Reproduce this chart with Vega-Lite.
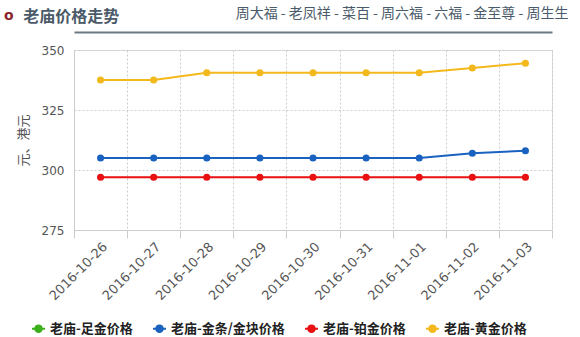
{
  "$schema": "https://vega.github.io/schema/vega-lite/v6.json",
  "width": 478,
  "height": 180,
  "autosize": {"type": "none"},
  "padding": {"left": 74, "top": 50, "right": 28, "bottom": 107},
  "background": "white",
  "title": {
    "text": "o",
    "subtitle": "\u200b\u3000\u2009老庙价格走势",
    "anchor": "start",
    "frame": "group",
    "dx": -70,
    "dy": 19,
    "offset": 0,
    "font": "DejaVu Sans",
    "fontSize": 14,
    "fontWeight": "bold",
    "color": "#8b1f2d",
    "subtitleFont": "Noto Sans CJK SC",
    "subtitleFontSize": 16,
    "subtitleFontWeight": "bold",
    "subtitleColor": "#4b5a69",
    "subtitlePadding": -14
  },
  "data": {
    "values": [
      {"date": "2016-10-26", "series": "老庙-金条/金块价格", "price": 305},
      {"date": "2016-10-27", "series": "老庙-金条/金块价格", "price": 305},
      {"date": "2016-10-28", "series": "老庙-金条/金块价格", "price": 305},
      {"date": "2016-10-29", "series": "老庙-金条/金块价格", "price": 305},
      {"date": "2016-10-30", "series": "老庙-金条/金块价格", "price": 305},
      {"date": "2016-10-31", "series": "老庙-金条/金块价格", "price": 305},
      {"date": "2016-11-01", "series": "老庙-金条/金块价格", "price": 305},
      {"date": "2016-11-02", "series": "老庙-金条/金块价格", "price": 307},
      {"date": "2016-11-03", "series": "老庙-金条/金块价格", "price": 308},
      {"date": "2016-10-26", "series": "老庙-铂金价格", "price": 297},
      {"date": "2016-10-27", "series": "老庙-铂金价格", "price": 297},
      {"date": "2016-10-28", "series": "老庙-铂金价格", "price": 297},
      {"date": "2016-10-29", "series": "老庙-铂金价格", "price": 297},
      {"date": "2016-10-30", "series": "老庙-铂金价格", "price": 297},
      {"date": "2016-10-31", "series": "老庙-铂金价格", "price": 297},
      {"date": "2016-11-01", "series": "老庙-铂金价格", "price": 297},
      {"date": "2016-11-02", "series": "老庙-铂金价格", "price": 297},
      {"date": "2016-11-03", "series": "老庙-铂金价格", "price": 297},
      {"date": "2016-10-26", "series": "老庙-黄金价格", "price": 337.5},
      {"date": "2016-10-27", "series": "老庙-黄金价格", "price": 337.5},
      {"date": "2016-10-28", "series": "老庙-黄金价格", "price": 340.5},
      {"date": "2016-10-29", "series": "老庙-黄金价格", "price": 340.5},
      {"date": "2016-10-30", "series": "老庙-黄金价格", "price": 340.5},
      {"date": "2016-10-31", "series": "老庙-黄金价格", "price": 340.5},
      {"date": "2016-11-01", "series": "老庙-黄金价格", "price": 340.5},
      {"date": "2016-11-02", "series": "老庙-黄金价格", "price": 342.5},
      {"date": "2016-11-03", "series": "老庙-黄金价格", "price": 344.5}
    ]
  },
  "encoding": {
    "y": {
      "field": "price",
      "type": "quantitative",
      "scale": {"domain": [275, 350], "nice": false, "zero": false},
      "axis": {
        "values": [275, 300, 325, 350],
        "title": "元、港元",
        "titleFont": "Noto Sans CJK SC",
        "titleFontSize": 13,
        "titleFontWeight": "normal",
        "titleColor": "#555",
        "titlePadding": 11,
        "labelFont": "DejaVu Sans",
        "labelFontSize": 12,
        "labelColor": "#555",
        "labelPadding": 10,
        "ticks": false,
        "domainColor": "#ccc",
        "gridColor": "#ccc",
        "gridDash": [2, 2]
      }
    },
    "color": {
      "field": "series",
      "type": "nominal",
      "scale": {
        "domain": ["老庙-足金价格", "老庙-金条/金块价格", "老庙-铂金价格", "老庙-黄金价格"],
        "range": ["#3cb01c", "#1a62bf", "#e81010", "#f2b81c"]
      },
      "legend": {
        "orient": "none",
        "legendX": -43,
        "legendY": 271,
        "direction": "horizontal",
        "title": null,
        "symbolType": "M-1,0H1M0.5,0A0.5,0.5 0 1,1 -0.5,0A0.5,0.5 0 1,1 0.5,0Z",
        "symbolSize": 169,
        "symbolStrokeWidth": 2,
        "labelFont": "Noto Sans CJK SC",
        "labelFontWeight": "bold",
        "labelFontSize": 13,
        "labelColor": "#222",
        "labelOffset": 4,
        "columnPadding": 16
      }
    }
  },
  "layer": [
    {
      "mark": {"type": "line", "strokeWidth": 2},
      "encoding": {
        "x": {
          "field": "date",
          "type": "ordinal",
          "bandPosition": 0.5,
          "scale": {"type": "band", "paddingInner": 0, "paddingOuter": 0},
          "axis": {
            "title": null,
            "labelAngle": -45,
            "tickBand": "extent",
            "grid": true,
            "gridDash": [2, 2],
            "gridColor": "#ccc",
            "tickColor": "#ccc",
            "tickSize": 8,
            "domainColor": "#ccc",
            "labelColor": "#555",
            "labelFont": "DejaVu Sans",
            "labelFontSize": 13,
            "labelPadding": 2
          }
        }
      }
    },
    {
      "mark": {"type": "point", "filled": true, "size": 50, "opacity": 1},
      "encoding": {
        "x": {
          "field": "date",
          "type": "ordinal",
          "bandPosition": 0.5,
          "scale": {"type": "band", "paddingInner": 0, "paddingOuter": 0},
          "axis": {
            "orient": "top",
            "offset": 18,
            "labels": false,
            "ticks": false,
            "grid": false,
            "domainColor": "#6a7884",
            "domainWidth": 2,
            "title": "周大福 - 老凤祥 - 菜百 - 周六福 - 六福 - 金至尊 - 周生生",
            "titleFont": "Noto Sans CJK SC",
            "titleFontSize": 14,
            "titleFontWeight": "normal",
            "titleColor": "#4a5a6a",
            "titleAnchor": "end",
            "titleAlign": "right",
            "titleX": 494,
            "titleY": -19,
            "titleBaseline": "middle"
          }
        }
      }
    }
  ],
  "resolve": {"axis": {"x": "independent"}}
}
